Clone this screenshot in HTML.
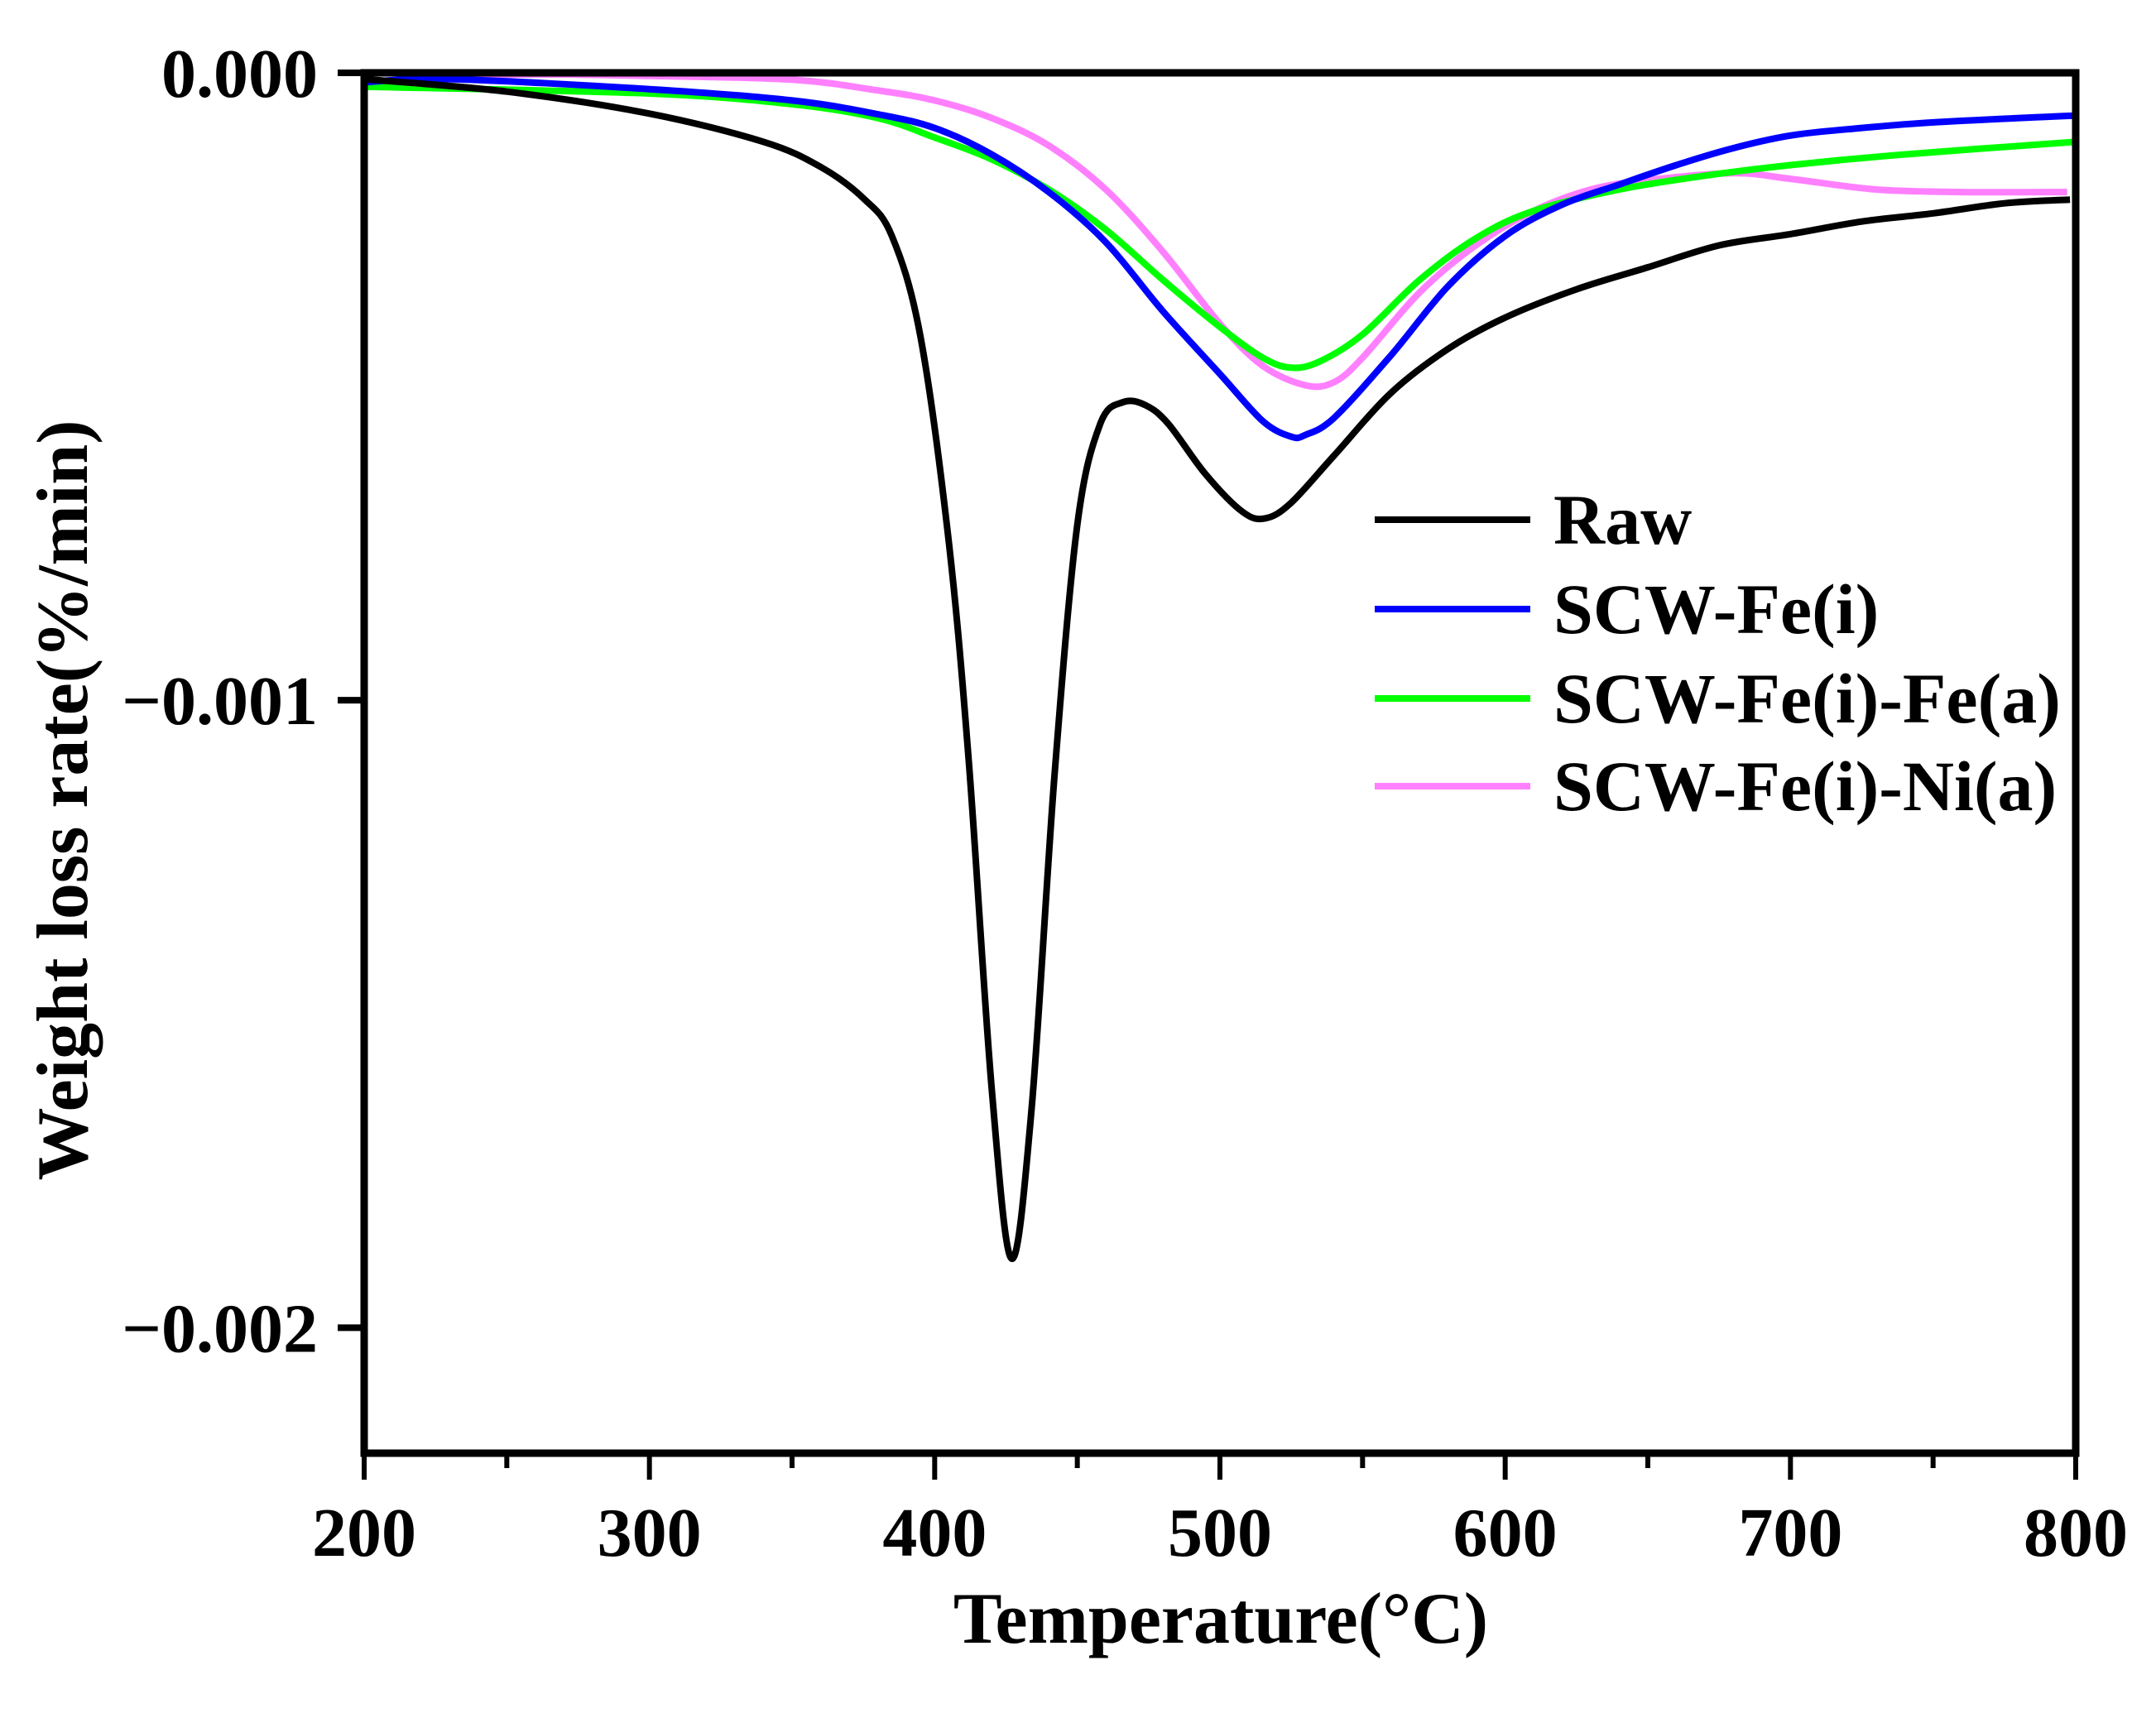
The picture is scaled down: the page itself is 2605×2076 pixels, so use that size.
<!DOCTYPE html>
<html><head><meta charset="utf-8"><style>
html,body{margin:0;padding:0;background:#fff;}
svg{display:block;}
text{font-family:"Liberation Serif",serif;font-weight:bold;fill:#000;}
</style></head><body>
<svg id="chart" width="2605" height="2076" viewBox="0 0 2605 2076" xmlns="http://www.w3.org/2000/svg">
<g id="series"></g>
<rect x="440" y="88" width="2068" height="1668" fill="none" stroke="#000" stroke-width="9"/>
<g id="axes"></g>
<text x="1475" y="1985" font-size="88" text-anchor="middle">Temperature(°C)</text>
<text x="0" y="0" font-size="88" text-anchor="middle" transform="translate(105,967) rotate(-90)">Weight loss rate(%/min)</text>
<g id="legend"></g>
</svg>
<script>
const xTicks = [200, 300, 400, 500, 600, 700, 800];
const xMinorTicks = [250, 350, 450, 550, 650, 750];
const yTicks = [0, -0.001, -0.002];
const yTickLabels = ["0.000", "\u22120.001", "\u22120.002"];
const seriesNames = ["Raw", "SCW-Fe(i)", "SCW-Fe(i)-Fe(a)", "SCW-Fe(i)-Ni(a)"];
const seriesColors = ["#000000", "#0000ff", "#00ff00", "#ff80ff"];
// values in units of 1e-3 %/min
const rawT = [200,250,300,340,360,375,385,395,405,412,420,427,434,442,450,458,466,474,482,495,508,516,525,540,560,580,600,625,650,675,700,725,750,775,798];
const rawV = [-0.01,-0.03,-0.065,-0.11,-0.15,-0.20,-0.26,-0.42,-0.75,-1.10,-1.62,-1.89,-1.65,-1.12,-0.72,-0.56,-0.525,-0.53,-0.56,-0.64,-0.70,-0.71,-0.685,-0.61,-0.51,-0.44,-0.39,-0.345,-0.31,-0.275,-0.257,-0.237,-0.224,-0.208,-0.202];
const feT = [200,230,300,350,380,400,420,440,460,480,500,515,525,530,540,560,580,600,620,640,660,680,700,720,750,800];
const feV = [-0.015,-0.01,-0.026,-0.044,-0.066,-0.088,-0.13,-0.19,-0.27,-0.38,-0.48,-0.555,-0.58,-0.577,-0.55,-0.45,-0.34,-0.26,-0.21,-0.178,-0.147,-0.12,-0.10,-0.09,-0.079,-0.068];
const fefeT = [200,300,350,380,400,420,440,460,480,500,515,525,535,550,570,590,610,640,670,700,740,800];
const fefeV = [-0.022,-0.033,-0.05,-0.072,-0.103,-0.138,-0.186,-0.25,-0.33,-0.405,-0.454,-0.47,-0.46,-0.417,-0.33,-0.263,-0.22,-0.186,-0.164,-0.147,-0.13,-0.11];
const feniT = [200,250,300,350,380,400,420,440,460,480,500,515,530,540,550,570,590,610,630,650,680,700,730,760,797];
const feniV = [-0.015,-0.003,-0.005,-0.011,-0.028,-0.044,-0.072,-0.116,-0.186,-0.285,-0.40,-0.467,-0.498,-0.493,-0.454,-0.35,-0.274,-0.22,-0.186,-0.171,-0.16,-0.169,-0.186,-0.19,-0.19];

const NS = "http://www.w3.org/2000/svg";
const X0 = 440, X1 = 2508, Y0 = 88, Y1 = 1756;
const xMin = 200, xMax = 800, yMax = 0, yMin = -0.0022;
function xs(t){ return X0 + (t - xMin) / (xMax - xMin) * (X1 - X0); }
function ys(v){ return Y0 + (yMax - v) / (yMax - yMin) * (Y1 - Y0); }

function pathFor(T, V){
  const p = T.map((t,i)=>[xs(t), ys(V[i]*1e-3)]);
  let d = "M" + p[0][0].toFixed(1) + "," + p[0][1].toFixed(1);
  for (let i=0;i<p.length-1;i++){
    const a = p[Math.max(0,i-1)], b = p[i], c = p[i+1], e = p[Math.min(p.length-1,i+2)];
    const c1x = b[0] + (c[0]-a[0])/6, c1y = b[1] + (c[1]-a[1])/6;
    const c2x = c[0] - (e[0]-b[0])/6, c2y = c[1] - (e[1]-b[1])/6;
    d += " C" + c1x.toFixed(1)+","+c1y.toFixed(1)+" "+c2x.toFixed(1)+","+c2y.toFixed(1)+" "+c[0].toFixed(1)+","+c[1].toFixed(1);
  }
  return d;
}

const sg = document.getElementById("series");
const allT = [rawT, feT, fefeT, feniT];
const allV = [rawV, feV, fefeV, feniV];
const seriesKeys = ["series-raw", "series-scw-fe-i", "series-scw-fe-i-fe-a", "series-scw-fe-i-ni-a"];
[3,2,1,0].forEach(k=>{
  const path = document.createElementNS(NS,"path");
  
  
  path.setAttribute("d", pathFor(allT[k], allV[k]));
  path.setAttribute("fill","none");
  path.setAttribute("stroke", seriesColors[k]);
  path.setAttribute("stroke-width","8");
  path.setAttribute("stroke-linejoin","round");
  sg.appendChild(path);
});

const ax = document.getElementById("axes");
function line(x1,y1,x2,y2,w,name){
  const l = document.createElementNS(NS,"line");
  
  
  l.setAttribute("x1",x1); l.setAttribute("y1",y1); l.setAttribute("x2",x2); l.setAttribute("y2",y2);
  l.setAttribute("stroke","#000"); l.setAttribute("stroke-width",w);
  ax.appendChild(l);
}
function text(x,y,s,anchor,size,name){
  const t = document.createElementNS(NS,"text");
  
  
  t.setAttribute("x",x); t.setAttribute("y",y);
  t.setAttribute("text-anchor",anchor); t.setAttribute("font-size",size);
  t.textContent = s;
  return t;
}
xTicks.forEach(t=>{
  line(xs(t), Y1, xs(t), Y1+32, 6, "x-major-tick");
  ax.appendChild(text(xs(t), 1880, String(t), "middle", 84, "x-tick-label"));
});
xMinorTicks.forEach(t=>{ line(xs(t), Y1, xs(t), Y1+18, 6, "x-minor-tick"); });
yTicks.forEach((v,i)=>{
  line(X0-32, ys(v), X0, ys(v), 8, "y-major-tick");
  ax.appendChild(text(384, ys(v)+29, yTickLabels[i], "end", 84, "y-tick-label"));
});

const lg = document.getElementById("legend");
const legendY = [628, 736, 844, 950];
seriesNames.forEach((n,i)=>{
  const g = document.createElementNS(NS,"g");
  
  
  const l = document.createElementNS(NS,"line");
  
  
  l.setAttribute("x1",1661); l.setAttribute("x2",1849);
  l.setAttribute("y1",legendY[i]); l.setAttribute("y2",legendY[i]);
  l.setAttribute("stroke",seriesColors[i]); l.setAttribute("stroke-width",8);
  g.appendChild(l);
  g.appendChild(text(1877, legendY[i]+29, n, "start", 86, "legend-label"));
  lg.appendChild(g);
});
</script>
</body></html>
